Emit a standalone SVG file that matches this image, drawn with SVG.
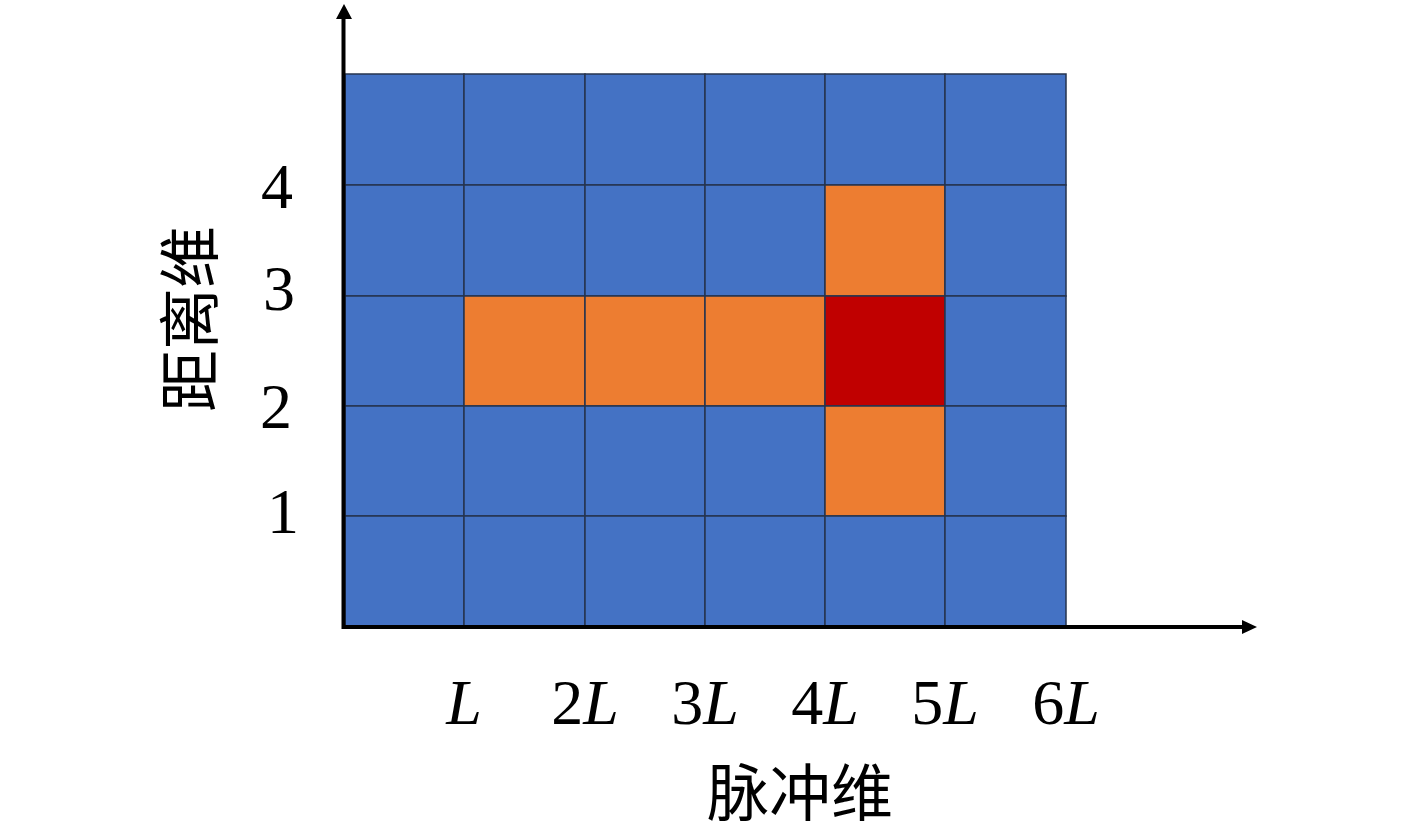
<svg xmlns="http://www.w3.org/2000/svg" width="1417" height="834" viewBox="0 0 1417 834">
<style>
.b{fill:#4472C4;stroke:#26344F;stroke-width:1.5}
.o{fill:#ED7D31;stroke:#26344F;stroke-width:1.5}
.r{fill:#C00000;stroke:#26344F;stroke-width:1.5}
.num{font-family:"Liberation Serif","DejaVu Serif",serif;font-size:64px;fill:#000}
.it{font-style:italic}
.cjk{font-family:"Noto Sans CJK SC","Noto Sans",sans-serif;font-size:62px;fill:#000}
</style>
<rect width="1417" height="834" fill="#fff"/>
<g id="grid">
<rect class="b" x="345" y="74" width="119" height="111"/>
<rect class="b" x="464" y="74" width="121" height="111"/>
<rect class="b" x="585" y="74" width="120" height="111"/>
<rect class="b" x="705" y="74" width="120" height="111"/>
<rect class="b" x="825" y="74" width="120" height="111"/>
<rect class="b" x="945" y="74" width="121" height="111"/>
<rect class="b" x="345" y="185" width="119" height="111"/>
<rect class="b" x="464" y="185" width="121" height="111"/>
<rect class="b" x="585" y="185" width="120" height="111"/>
<rect class="b" x="705" y="185" width="120" height="111"/>
<rect class="o" x="825" y="185" width="120" height="111"/>
<rect class="b" x="945" y="185" width="121" height="111"/>
<rect class="b" x="345" y="296" width="119" height="110"/>
<rect class="o" x="464" y="296" width="121" height="110"/>
<rect class="o" x="585" y="296" width="120" height="110"/>
<rect class="o" x="705" y="296" width="120" height="110"/>
<rect class="r" x="825" y="296" width="120" height="110"/>
<rect class="b" x="945" y="296" width="121" height="110"/>
<rect class="b" x="345" y="406" width="119" height="110"/>
<rect class="b" x="464" y="406" width="121" height="110"/>
<rect class="b" x="585" y="406" width="120" height="110"/>
<rect class="b" x="705" y="406" width="120" height="110"/>
<rect class="o" x="825" y="406" width="120" height="110"/>
<rect class="b" x="945" y="406" width="121" height="110"/>
<rect class="b" x="345" y="516" width="119" height="111"/>
<rect class="b" x="464" y="516" width="121" height="111"/>
<rect class="b" x="585" y="516" width="120" height="111"/>
<rect class="b" x="705" y="516" width="120" height="111"/>
<rect class="b" x="825" y="516" width="120" height="111"/>
<rect class="b" x="945" y="516" width="121" height="111"/>
</g>
<g id="axes">
<line x1="343.5" y1="629" x2="343.5" y2="18" stroke="#000" stroke-width="4"/>
<polygon points="336,19 352,19 344,4" fill="#000"/>
<line x1="342" y1="627" x2="1243" y2="627" stroke="#000" stroke-width="4"/>
<polygon points="1242,620 1242,634 1257,627" fill="#000"/>
</g>
<g id="y-labels" class="num" text-anchor="middle">
<text x="277" y="208">4</text>
<text x="279" y="310">3</text>
<text x="276" y="428">2</text>
<text x="283" y="533">1</text>
</g>
<g id="x-labels" class="num" text-anchor="middle">
<text x="464" y="724"><tspan class="it">L</tspan></text>
<text x="585" y="724">2<tspan class="it">L</tspan></text>
<text x="705" y="724">3<tspan class="it">L</tspan></text>
<text x="825" y="724">4<tspan class="it">L</tspan></text>
<text x="945" y="724">5<tspan class="it">L</tspan></text>
<text x="1066" y="724">6<tspan class="it">L</tspan></text>
</g>
<g id="titles" class="cjk" text-anchor="middle">
<text x="800" y="816">脉冲维</text>
<text transform="translate(213,319) rotate(-90)" x="0" y="0">距离维</text>
</g>
</svg>
